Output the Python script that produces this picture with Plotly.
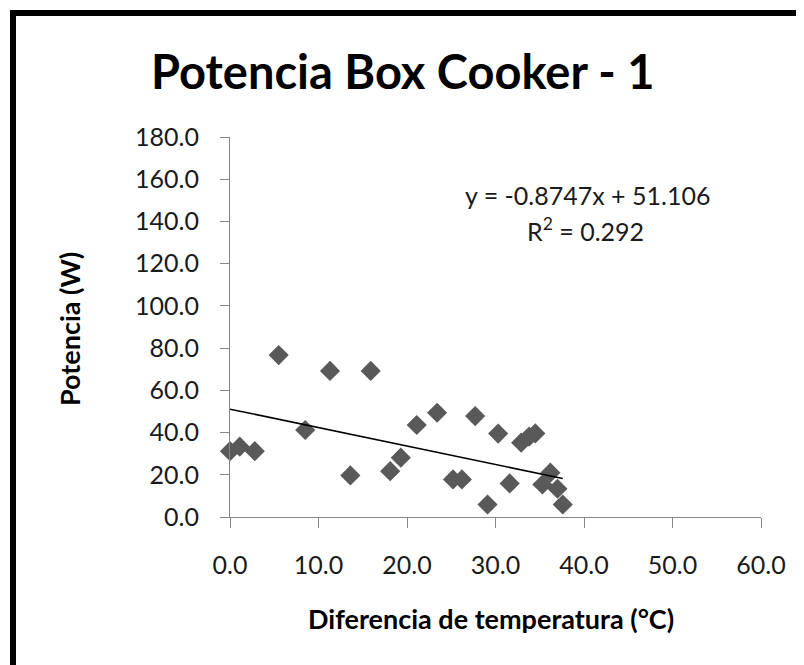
import plotly.graph_objects as go

# Data
temp_diff = [0.0, 1.1, 2.8, 5.5, 8.5, 11.3, 13.6, 15.9, 18.1, 19.3, 21.1, 23.4, 25.2,
             26.2, 27.7, 29.1, 30.3, 31.6, 32.9, 33.8, 34.5, 35.3, 36.2, 37.0, 37.6]
power = [31.2, 33.3, 31.2, 76.7, 41.2, 69.2, 19.7, 69.2, 21.7, 28.1, 43.6, 49.4, 17.8,
         17.8, 47.8, 5.9, 39.5, 15.9, 35.2, 38.1, 39.6, 15.4, 21.0, 13.4, 5.9]

slope = -0.8747
intercept = 51.106
r_squared = 0.292

x_ticks = [0, 10, 20, 30, 40, 50, 60]
y_ticks = [0, 20, 40, 60, 80, 100, 120, 140, 160, 180]

title_text = "Potencia Box Cooker - 1"
x_title = "Diferencia de temperatura (°C)"
y_title = "Potencia (W)"

trend_x = [min(temp_diff), max(temp_diff)]
trend_y = [slope * v + intercept for v in trend_x]

W, H = 804, 665
OFF = 8  # page body margin
L, T = 230 - OFF, 137 - OFF
pw, ph = 531, 380
R, B = W - L - pw, H - T - ph

def px(page_x):
    return (page_x - OFF - L) / pw

def py(page_y):
    return (H - B - (page_y - OFF)) / ph

FONT = "Lato, Carlito, Calibri, sans-serif"
AXIS_COLOR = "#868686"
TXT = "#1a1a1a"

fig = go.Figure()
fig.add_trace(go.Scatter(
    x=temp_diff, y=power, mode="markers",
    marker=dict(symbol="diamond", size=15.5, color="#595959", line=dict(width=0)),
    showlegend=False, cliponaxis=False,
))
fig.add_trace(go.Scatter(
    x=trend_x, y=trend_y, mode="lines",
    line=dict(color="black", width=1.5),
    showlegend=False,
))

fig.update_layout(
    width=W, height=H,
    margin=dict(l=L, r=R, t=T, b=B),
    paper_bgcolor="white", plot_bgcolor="white",
    font=dict(family=FONT, color=TXT, size=24),
    showlegend=False,
    xaxis=dict(
        range=[0, 60], tickvals=x_ticks, ticktext=[f"{v:.1f}" for v in x_ticks],
        showgrid=False, zeroline=False, showline=True, linecolor=AXIS_COLOR, linewidth=1,
        ticks="outside", ticklen=10, tickcolor=AXIS_COLOR, tickwidth=1,
        ticklabelstandoff=16,
        tickfont=dict(family=FONT, size=25, color=TXT),
    ),
    yaxis=dict(
        range=[0, 180], tickvals=y_ticks, ticktext=[f"{v:.1f}" for v in y_ticks],
        showgrid=False, zeroline=False, showline=True, linecolor=AXIS_COLOR, linewidth=1,
        ticks="outside", ticklen=9, tickcolor=AXIS_COLOR, tickwidth=1,
        ticklabelstandoff=16,
        tickfont=dict(family=FONT, size=25, color=TXT),
    ),
    annotations=[
        dict(text=f"<b>{title_text}</b>", x=px(403), y=py(71),
             xref="paper", yref="paper", showarrow=False,
             xanchor="center", yanchor="middle",
             font=dict(family=FONT, size=47, color="black")),
        dict(text=f"<b>{x_title}</b>", x=px(491), y=py(618),
             xref="paper", yref="paper", showarrow=False, xanchor="center", yanchor="middle",
             font=dict(family=FONT, size=27, color="black")),
        dict(text=f"<b>{y_title}</b>", x=px(69), y=py(329), textangle=-90,
             xref="paper", yref="paper", showarrow=False, xanchor="center", yanchor="middle",
             font=dict(family=FONT, size=27, color="black")),
        dict(text=f"y = {slope}x + {intercept:.3f}", x=px(587), y=py(195),
             xref="paper", yref="paper", showarrow=False, xanchor="center", yanchor="middle",
             font=dict(family=FONT, size=25, color=TXT)),
        dict(text=f"R<sup>2</sup> = {r_squared}", x=px(585), y=py(229),
             xref="paper", yref="paper", showarrow=False, xanchor="center", yanchor="middle",
             font=dict(family=FONT, size=25, color=TXT)),
    ],
    shapes=[
        dict(type="rect", xref="paper", yref="paper",
             x0=px(13), x1=px(840), y0=py(720), y1=py(13),
             line=dict(color="black", width=6), fillcolor="rgba(0,0,0,0)", layer="above"),
    ],
)

fig.write_html("out.html")
